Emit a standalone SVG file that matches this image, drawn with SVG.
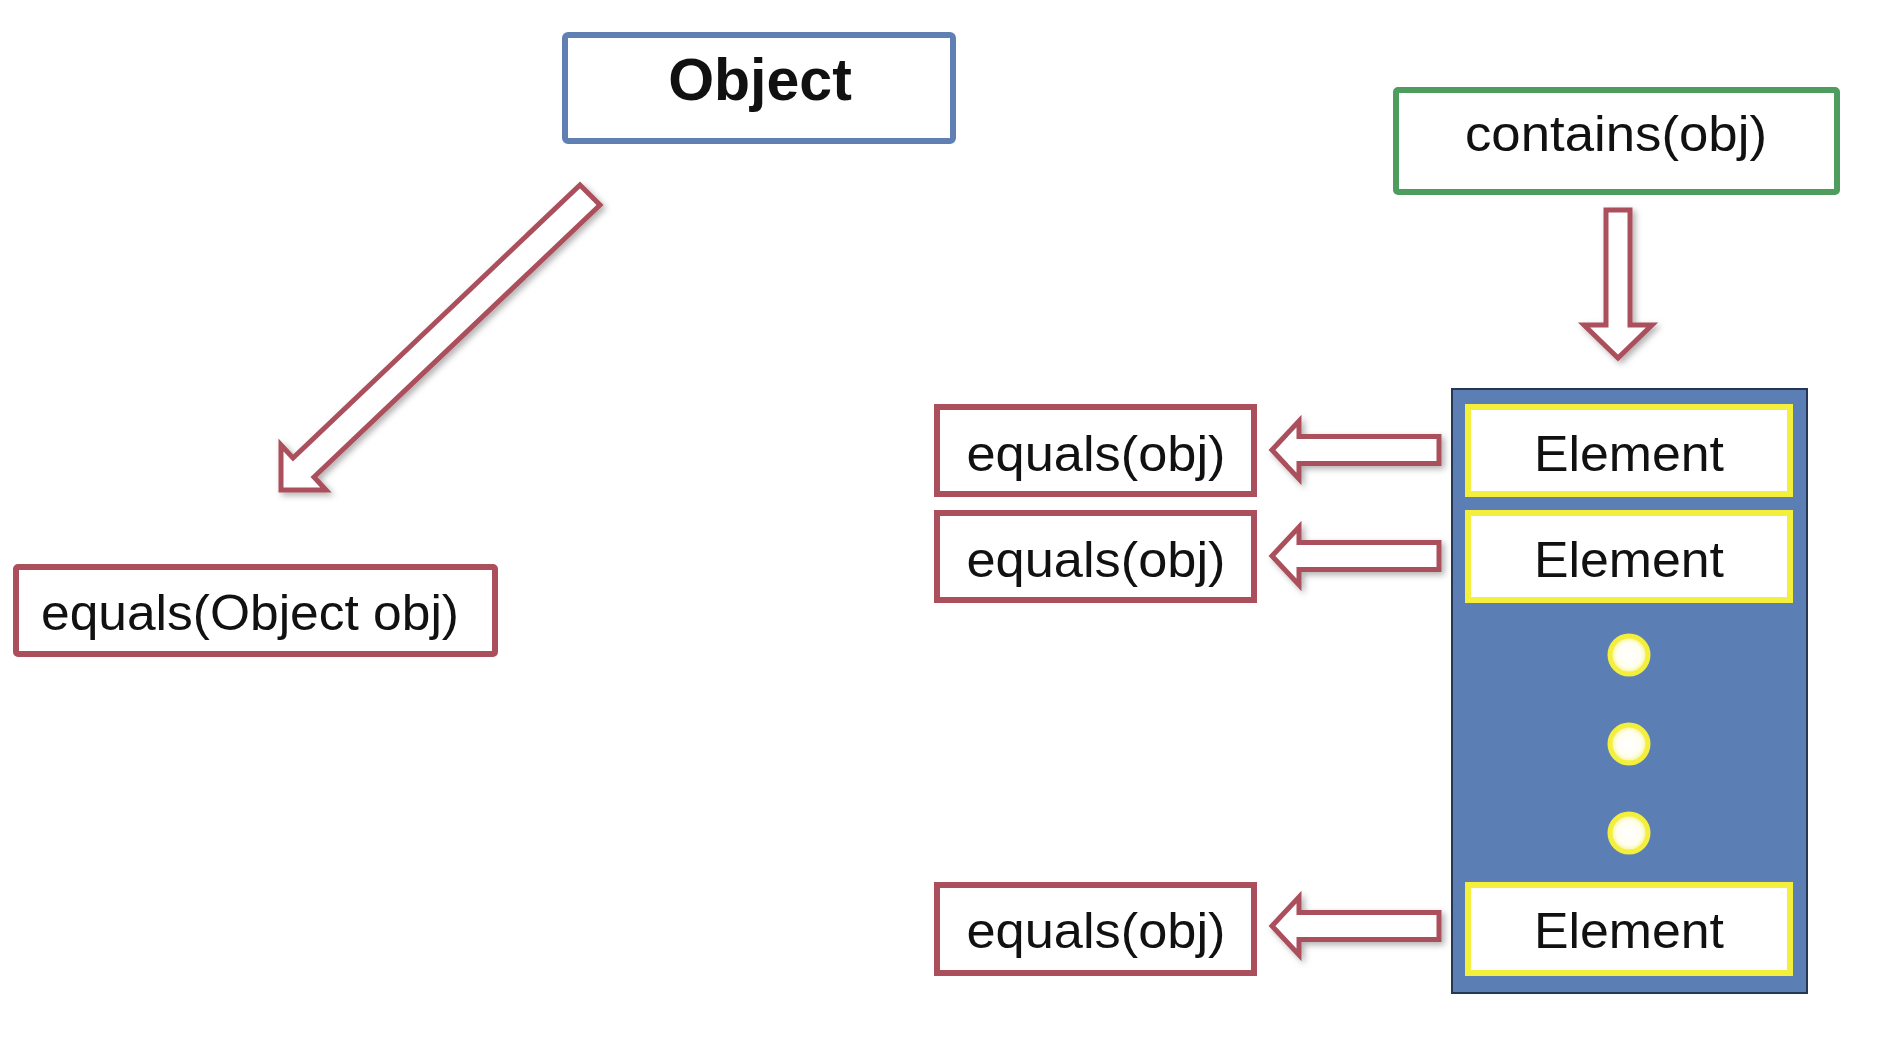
<svg xmlns="http://www.w3.org/2000/svg" width="1886" height="1046" viewBox="0 0 1886 1046">
  <style>
    .lbl { font-family: "Liberation Sans", Arial, sans-serif; font-size: 50px; fill: #111; }
    .bold { font-weight: bold; font-size: 59px; }
    .redbox { fill: #ffffff; stroke: #ab4f5d; stroke-width: 6; }
    .elbox { fill: #ffffff; stroke: #f3ef3c; stroke-width: 6; }
    .arrow { fill: #ffffff; stroke: #ab4f5d; stroke-width: 5; stroke-linejoin: miter; }
  </style>
  <defs>
    <filter id="shadow" x="-20%" y="-20%" width="140%" height="140%">
      <feDropShadow dx="3" dy="3" stdDeviation="3" flood-color="#000" flood-opacity="0.3"/>
    </filter>
    <radialGradient id="dotFill" cx="50%" cy="50%" r="50%">
      <stop offset="0%" stop-color="#ffffff"/>
      <stop offset="65%" stop-color="#fffef0"/>
      <stop offset="100%" stop-color="#f6f27a"/>
    </radialGradient>
    <path id="leftArrow" d="M 1272 0 L 1299 -29 L 1299 -13.5 L 1439 -13.5 L 1439 13.5 L 1299 13.5 L 1299 29 Z"/>
  </defs>

  <rect width="1886" height="1046" fill="#ffffff"/>

  <g id="node-object">
    <rect x="565" y="35" width="388" height="106" rx="3" fill="#ffffff" stroke="#6080b4" stroke-width="6"/>
    <text class="lbl bold" x="760" y="100" text-anchor="middle">Object</text>
  </g>

  <g id="node-equals-object">
    <rect class="redbox" x="16" y="567" width="479" height="87" rx="2"/>
    <text class="lbl" x="41" y="630" textLength="418" lengthAdjust="spacingAndGlyphs">equals(Object obj)</text>
  </g>

  <g id="node-contains">
    <rect x="1396" y="90" width="441" height="102" rx="2" fill="#ffffff" stroke="#4f9d5e" stroke-width="6"/>
    <text class="lbl" x="1616" y="151" text-anchor="middle" textLength="302" lengthAdjust="spacingAndGlyphs">contains(obj)</text>
  </g>

  <g id="node-collection">
    <rect x="1452" y="389" width="355" height="604" fill="#5b7fb5" stroke="#263754" stroke-width="2"/>
  </g>

  <g id="node-element-1">
    <rect class="elbox" x="1468" y="407" width="322" height="87"/>
    <text class="lbl" x="1629" y="471" text-anchor="middle" textLength="190" lengthAdjust="spacingAndGlyphs">Element</text>
  </g>
  <g id="node-element-2">
    <rect class="elbox" x="1468" y="513" width="322" height="87"/>
    <text class="lbl" x="1629" y="577" text-anchor="middle" textLength="190" lengthAdjust="spacingAndGlyphs">Element</text>
  </g>
  <g id="node-dots">
    <circle cx="1629" cy="655" r="19" fill="url(#dotFill)" stroke="#f3ef3c" stroke-width="5"/>
    <circle cx="1629" cy="744" r="19" fill="url(#dotFill)" stroke="#f3ef3c" stroke-width="5"/>
    <circle cx="1629" cy="833" r="19" fill="url(#dotFill)" stroke="#f3ef3c" stroke-width="5"/>
  </g>
  <g id="node-element-3">
    <rect class="elbox" x="1468" y="885" width="322" height="88"/>
    <text class="lbl" x="1629" y="948" text-anchor="middle" textLength="190" lengthAdjust="spacingAndGlyphs">Element</text>
  </g>

  <g id="node-equals-1">
    <rect class="redbox" x="937" y="407" width="317" height="87"/>
    <text class="lbl" x="1096" y="471" text-anchor="middle" textLength="259" lengthAdjust="spacingAndGlyphs">equals(obj)</text>
  </g>
  <g id="node-equals-2">
    <rect class="redbox" x="937" y="513" width="317" height="87"/>
    <text class="lbl" x="1096" y="577" text-anchor="middle" textLength="259" lengthAdjust="spacingAndGlyphs">equals(obj)</text>
  </g>
  <g id="node-equals-3">
    <rect class="redbox" x="937" y="885" width="317" height="88"/>
    <text class="lbl" x="1096" y="948" text-anchor="middle" textLength="259" lengthAdjust="spacingAndGlyphs">equals(obj)</text>
  </g>

  <g id="connectors" filter="url(#shadow)">
    <polygon class="arrow" points="580,185 600,205 314,477 326,490 281,490 281,445 293,458"/>
    <polygon class="arrow" points="1606,210 1630,210 1630,325 1652,325 1618,358 1584,325 1606,325"/>
    <use href="#leftArrow" class="arrow" transform="translate(0,450)"/>
    <use href="#leftArrow" class="arrow" transform="translate(0,556)"/>
    <use href="#leftArrow" class="arrow" transform="translate(0,926)"/>
  </g>
</svg>
